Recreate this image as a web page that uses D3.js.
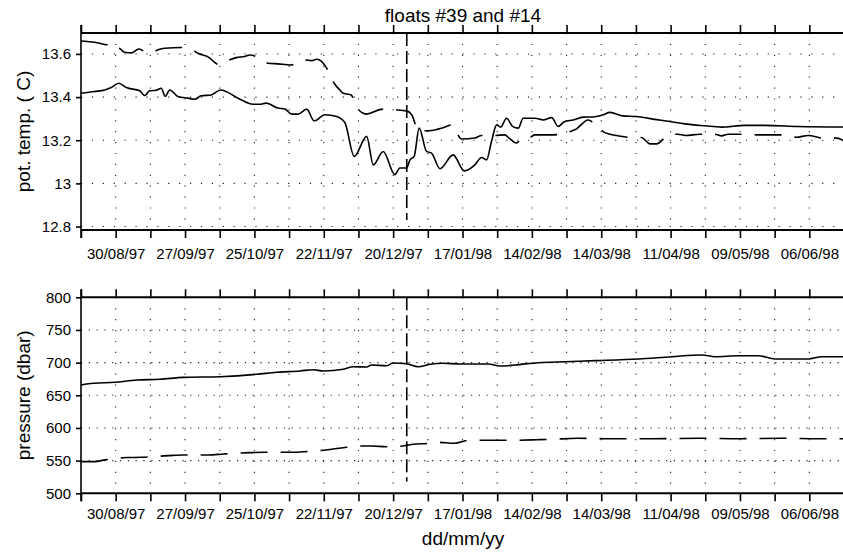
<!DOCTYPE html>
<html>
<head>
<meta charset="utf-8">
<script src="https://cdn.jsdelivr.net/npm/d3@7"></script>
<style>
  body { margin: 0; background: #fff; }
  text { font-family: "Liberation Sans", Arial, Helvetica, sans-serif; }
</style>
</head>
<body>
<svg id="chart" width="843" height="555"></svg>
<script>
// days are counted from 16/08/97
const dayZero = Date.UTC(1997, 7, 16);
const lastDay = 308;
const markerDay = 131.5; // vertical dashed line, ~25/12/97

const tempTicks = [12.8, 13, 13.2, 13.4, 13.6];
const presTicks = [500, 550, 600, 650, 700, 750, 800];

// pot. temp., solid line
const t39Day = [0, 5.5, 9.6, 12.2, 15.2, 18.3, 23.7, 25.7, 27.7, 30.4, 32.4, 34, 35.8, 39.1, 43.2, 45.9, 48.5, 52.6, 56.4, 63.4, 69.4, 72.1, 74.8, 79.5, 82.3, 85, 87.7, 91.1, 94.1, 98.5, 103.2, 106.5, 110.3, 115.3, 118, 122, 126.7, 128.7, 131.4, 132.8, 134.5, 136.5, 139.5, 141.5, 144.9, 150.2, 154.7, 159, 161.7, 163.7, 165.7, 167.8, 169.4, 171.8, 174.2, 176.5, 178.5, 183.2, 186.6, 190, 192.6, 195.3, 198.7, 202.7, 206.7, 210.8, 213.5, 218.8, 224.3, 230.9, 237.7, 243.7, 251.8, 258.6, 268, 276, 289.5, 308];
const t39Val = [13.418, 13.426, 13.433, 13.444, 13.464, 13.444, 13.429, 13.407, 13.429, 13.432, 13.441, 13.403, 13.433, 13.403, 13.395, 13.39, 13.406, 13.41, 13.433, 13.395, 13.367, 13.367, 13.372, 13.349, 13.345, 13.321, 13.321, 13.344, 13.29, 13.318, 13.31, 13.282, 13.125, 13.218, 13.086, 13.148, 13.04, 13.071, 13.071, 13.109, 13.125, 13.256, 13.148, 13.14, 13.068, 13.132, 13.058, 13.086, 13.12, 13.109, 13.194, 13.271, 13.261, 13.302, 13.264, 13.256, 13.302, 13.302, 13.294, 13.305, 13.264, 13.287, 13.294, 13.307, 13.308, 13.318, 13.329, 13.313, 13.31, 13.298, 13.287, 13.276, 13.267, 13.261, 13.269, 13.269, 13.264, 13.261];

// pot. temp., dashed line
const t14Day = [0, 5.5, 11.3, 13.7, 15.6, 17.6, 20.5, 23.3, 25.7, 28.4, 31.1, 33.8, 40.8, 44.5, 47.2, 51, 56, 58.6, 62.7, 66.1, 68.1, 73.4, 75.5, 79.5, 84.7, 90, 93.1, 95.1, 97.8, 99.6, 102.2, 104.5, 105.9, 109, 110.3, 111.7, 113.9, 115.3, 116.6, 122, 126.7, 131.4, 133.5, 136.1, 138.8, 141.5, 145.6, 147.6, 149.6, 153.6, 159, 161.7, 167.1, 171.1, 172.8, 175.8, 178.2, 181.2, 183.2, 189.3, 194.6, 197.4, 199.8, 204.7, 206.1, 208.8, 210.8, 213.5, 216.2, 222.2, 226.3, 227.6, 229.6, 232.3, 237, 240.9, 244, 249.8, 255.9, 258.6, 261.2, 266.6, 272.7, 283, 288.8, 293.5, 299.6, 305, 308];
const t14Val = [13.66, 13.654, 13.642, 13.645, 13.626, 13.608, 13.605, 13.623, 13.611, 13.606, 13.619, 13.626, 13.63, 13.623, 13.603, 13.588, 13.549, 13.565, 13.583, 13.588, 13.595, 13.572, 13.557, 13.554, 13.549, 13.572, 13.569, 13.575, 13.557, 13.526, 13.464, 13.433, 13.418, 13.41, 13.387, 13.349, 13.325, 13.321, 13.325, 13.344, 13.341, 13.336, 13.318, 13.248, 13.244, 13.245, 13.256, 13.264, 13.271, 13.206, 13.21, 13.222, 13.222, 13.225, 13.21, 13.187, 13.21, 13.213, 13.225, 13.225, 13.228, 13.24, 13.251, 13.294, 13.287, 13.269, 13.24, 13.228, 13.222, 13.213, 13.213, 13.202, 13.183, 13.183, 13.222, 13.228, 13.222, 13.228, 13.228, 13.22, 13.228, 13.228, 13.225, 13.225, 13.214, 13.222, 13.21, 13.21, 13.197];

// pressure, solid line
const p39Day = [0, 5, 13.7, 22.5, 31.9, 41.3, 56.1, 70.9, 79, 88.4, 93.8, 97.8, 105.9, 109.9, 115.3, 117.3, 123.4, 126, 131.4, 136.1, 140.8, 146.2, 152.9, 164.4, 169.1, 175.2, 184.6, 195.4, 207.5, 225, 238.5, 250.6, 256, 265.4, 273.4, 280.1, 293.6, 299, 308];
const p39Val = [665.8, 668.4, 669.9, 673.4, 674.5, 677.5, 678.5, 682.1, 685.2, 687.2, 689.2, 687.2, 689.8, 693.8, 693.3, 696.4, 695.3, 699.4, 698.4, 693.8, 697.4, 699, 697.9, 697.9, 694.8, 696.4, 699.9, 701.4, 703, 705.6, 709.1, 711.7, 709.1, 710.6, 710.6, 705.6, 705.6, 709.1, 709.1];

// pressure, dashed line
const p14Day = [0, 5.6, 9.7, 18.4, 24.5, 35.2, 41.3, 51.4, 57.7, 68.2, 74.3, 85, 90.8, 101.2, 107.2, 112.6, 117.3, 123.4, 130.1, 134.1, 140.2, 143.6, 150.9, 156.3, 167.8, 172.5, 184, 190, 200.5, 211.2, 229.7, 249.9, 266, 282.2, 298.3, 308];
const p14Val = [548.5, 548.5, 551.2, 554.7, 555.1, 557.6, 558.7, 558.7, 560.2, 562.2, 562.8, 562.8, 563.8, 567.4, 570.4, 572.4, 572.4, 571.3, 572.4, 575, 576.5, 578.1, 576.5, 581.1, 581.1, 581.1, 582, 582.7, 584.2, 583.6, 583.6, 584.2, 583.6, 584.2, 583.6, 583.6];

const toDate = (d) => new Date(dayZero + d * 864e5);
const zip = (days, vals) => days.map((d, i) => ({ date: toDate(d), v: vals[i] }));

const svg = d3.select("#chart");
const x = d3.scaleUtc().domain([toDate(0), toDate(lastDay)]).range([81, 844]);
const tickDays = d3.range(0, lastDay, 14);
const tickDates = tickDays.map(toDate);
const fmt = d3.utcFormat("%d/%m/%y");

function drawPanel(opt) {
  const y = d3.scaleLinear().domain(opt.domain).range([opt.bottom, opt.top]);
  const g = svg.append("g");

  // dotted grid
  g.selectAll(".vgrid")
    .data(tickDates.slice(1))
    .join("line")
    .attr("x1", (d) => x(d)).attr("x2", (d) => x(d))
    .attr("y1", opt.top).attr("y2", opt.bottom)
    .attr("stroke", "#222").attr("stroke-width", 1.1)
    .attr("stroke-dasharray", "1.2,9.7");
  g.selectAll(".hgrid")
    .data(opt.ticks.filter((t) => y(t) > opt.top + 1 && y(t) < opt.bottom - 1))
    .join("line")
    .attr("x1", 81).attr("x2", 844)
    .attr("y1", (d) => y(d)).attr("y2", (d) => y(d))
    .attr("stroke", "#222").attr("stroke-width", 1.1)
    .attr("stroke-dasharray", opt.hdash);

  const line = d3.line().x((d) => x(d.date)).y((d) => y(d.v)).curve(d3.curveMonotoneX);

  g.append("path")
    .datum(opt.solid)
    .attr("fill", "none").attr("stroke", "#000").attr("stroke-width", 1.6)
    .attr("d", line);
  g.append("path")
    .datum(opt.dashed)
    .attr("fill", "none").attr("stroke", "#000").attr("stroke-width", 1.6)
    .attr("stroke-dasharray", "27,13")
    .attr("d", line);

  // marker line
  g.append("line")
    .attr("x1", x(toDate(markerDay))).attr("x2", x(toDate(markerDay)))
    .attr("y1", opt.top).attr("y2", y(opt.markerEnd))
    .attr("stroke", "#000").attr("stroke-width", 1.6)
    .attr("stroke-dasharray", "13,5");

  // frame
  g.append("line").attr("x1", 81).attr("x2", 844).attr("y1", opt.top).attr("y2", opt.top)
    .attr("stroke", "#000").attr("stroke-width", 2);
  g.append("line").attr("x1", 81).attr("x2", 844).attr("y1", opt.bottom).attr("y2", opt.bottom)
    .attr("stroke", "#000").attr("stroke-width", 2);

  const xb = g.append("g")
    .attr("transform", `translate(0,${opt.bottom})`)
    .call(d3.axisBottom(x).tickValues(tickDates).tickSize(8).tickPadding(opt.labelPad)
      .tickFormat((d, i) => (tickDays[i] % 28 === 14 ? fmt(d) : "")));
  const xt = g.append("g")
    .attr("transform", `translate(0,${opt.top})`)
    .call(d3.axisTop(x).tickValues(tickDates).tickSize(8).tickFormat(""));
  const yl = g.append("g")
    .attr("transform", "translate(81,0)")
    .call(d3.axisLeft(y).tickValues(opt.ticks).tickSize(5).tickPadding(5)
      .tickFormat((d) => String(d)));
  yl.select(".domain").attr("d", `M0,${opt.top - 8}V${opt.bottom + 8}`);

  [xb, xt].forEach((a) => a.select(".domain").remove());
  [xb, xt, yl].forEach((a) => {
    a.selectAll("line").attr("stroke-width", 1.6);
    a.select(".domain").attr("stroke-width", 1.6);
    a.selectAll("text").attr("font-size", "15px").attr("fill", "#000")
      .style("font-family", '"Liberation Sans", Arial, sans-serif');
  });

  svg.append("text")
    .attr("transform", `translate(30,${(opt.top + opt.bottom) / 2}) rotate(-90)`)
    .attr("text-anchor", "middle")
    .attr("font-size", "19px")
    .text(opt.label);
}

drawPanel({
  top: 33, bottom: 230,
  domain: [12.784, 13.697],
  ticks: tempTicks,
  hdash: "1.2,9.7",
  solid: zip(t39Day, t39Val),
  dashed: zip(t14Day, t14Val),
  markerEnd: 12.83,
  labelPad: 10,
  label: "pot. temp. ( C)"
});

drawPanel({
  top: 297.3, bottom: 493.3,
  domain: [500, 800],
  ticks: presTicks,
  hdash: "1.2,6.6",
  solid: zip(p39Day, p39Val),
  dashed: zip(p14Day, p14Val),
  markerEnd: 518,
  labelPad: 7,
  label: "pressure (dbar)"
});

svg.append("text")
  .attr("x", 463).attr("y", 22)
  .attr("text-anchor", "middle")
  .attr("font-size", "19px")
  .text("floats #39 and #14");

svg.append("text")
  .attr("x", 463).attr("y", 545)
  .attr("text-anchor", "middle")
  .attr("font-size", "19px")
  .text("dd/mm/yy");
</script>
</body>
</html>
